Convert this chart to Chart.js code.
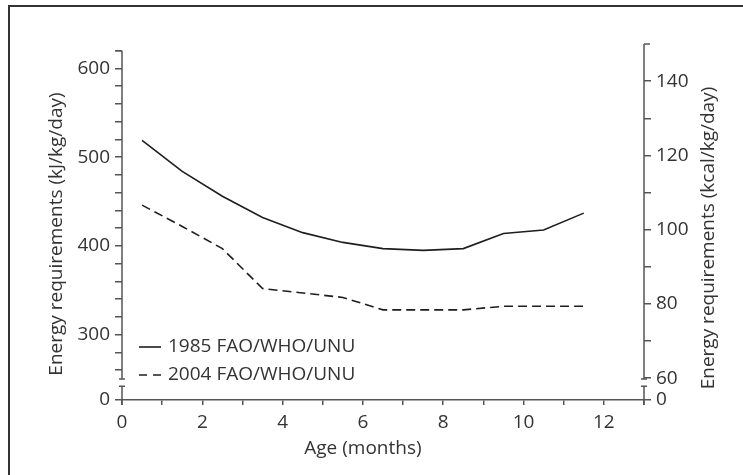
<!DOCTYPE html>
<html>
<head>
<meta charset="utf-8">
<script src="https://cdn.jsdelivr.net/npm/chart.js@4/dist/chart.umd.min.js"></script>
<style>
  html, body { margin: 0; padding: 0; background: #fff; }
  #wrap { width: 743px; height: 475px; }
</style>
</head>
<body>
<div id="wrap"><canvas id="energyChart" width="743" height="475"></canvas></div>
<script>
// data (kJ/kg/day at mid-month)
const ages = [0.5, 1.5, 2.5, 3.5, 4.5, 5.5, 6.5, 7.5, 8.5, 9.5, 10.5, 11.5];
const kj1985 = [519, 484, 456, 432, 415, 404, 397, 395, 397, 414, 418, 437];
const kj2004 = [446, 422, 397, 352, 347, 342, 328, 328, 328, 332, 332, 332];
const seriesLabels = ['1985 FAO/WHO/UNU', '2004 FAO/WHO/UNU'];

// axis ticks
const monthTicks = [0, 2, 4, 6, 8, 10, 12];
const kjTicks = [300, 400, 500, 600];
const kcalTicks = [60, 80, 100, 120, 140];

const KJ_PER_KCAL = 4.184;
const kjMin = 226.4, kjMax = 627.6;      // bottom of plot is labelled "0" after the break
const kjBreakTop = 250, kjBreakBottom = 242;
const kjAxisTop = 620;

const tickFont = { family: '"Open Sans", sans-serif', size: 19 };
const textFont = '19px "Open Sans", sans-serif';
const axisColor = '#555';
const inkColor = '#333';

function toPoints(xs, ys) {
  return xs.map((x, i) => ({ x: x, y: ys[i] }));
}

function range(a, b, step) {
  const out = [];
  for (let v = a; v <= b + 1e-9; v += step) out.push(v);
  return out;
}

// frame, broken y axes, legend and axis titles
const decorations = {
  id: 'decorations',
  beforeDraw(chart) {
    const ctx = chart.ctx;
    ctx.save();
    ctx.fillStyle = '#fff';
    ctx.fillRect(0, 0, chart.width, chart.height);
    ctx.strokeStyle = '#333';
    ctx.lineWidth = 2;
    ctx.beginPath();
    ctx.moveTo(9, chart.height);
    ctx.lineTo(9, 6);
    ctx.lineTo(chart.width, 6);
    ctx.stroke();
    ctx.restore();
  },
  afterDraw(chart) {
    const ctx = chart.ctx;
    const yL = chart.scales.yL, yR = chart.scales.yR, x = chart.scales.x;
    const area = chart.chartArea;
    ctx.save();
    ctx.strokeStyle = axisColor;
    ctx.lineWidth = 1.5;

    function brokenAxis(px, scale, top, bTop, bBottom, dir) {
      const yTop = scale.getPixelForValue(top);
      const y1 = scale.getPixelForValue(bTop);
      const y2 = scale.getPixelForValue(bBottom);
      ctx.beginPath();
      ctx.moveTo(px, yTop); ctx.lineTo(px, y1);
      ctx.moveTo(px - 3, y1); ctx.lineTo(px + 3, y1);
      ctx.moveTo(px - 3, y2); ctx.lineTo(px + 3, y2);
      ctx.moveTo(px, y2); ctx.lineTo(px, area.bottom + 5);
      ctx.moveTo(px, yTop); ctx.lineTo(px + dir * 6, yTop);
      ctx.stroke();
    }
    brokenAxis(area.left, yL, kjAxisTop, kjBreakTop, kjBreakBottom, -1);
    brokenAxis(area.right, yR, kjMax / KJ_PER_KCAL, kjBreakTop / KJ_PER_KCAL, kjBreakBottom / KJ_PER_KCAL, 1);

    // legend inside the plot
    ctx.font = textFont;
    ctx.textBaseline = 'middle';
    ctx.fillStyle = inkColor;
    const legendY = [347, 375];
    chart.data.datasets.forEach((ds, i) => {
      ctx.strokeStyle = ds.borderColor;
      ctx.lineWidth = ds.borderWidth;
      ctx.setLineDash(i === 0 ? [] : [8, 6]);
      ctx.beginPath();
      ctx.moveTo(139, legendY[i]);
      ctx.lineTo(161, legendY[i]);
      ctx.stroke();
      ctx.setLineDash([]);
      ctx.fillText(ds.label, 168, legendY[i]);
    });

    // axis titles (both y titles read bottom to top)
    ctx.textAlign = 'center';
    ctx.fillText('Age (months)', (x.getPixelForValue(0) + x.getPixelForValue(12)) / 2, 449);
    ctx.save();
    ctx.translate(57, 234);
    ctx.rotate(-Math.PI / 2);
    ctx.fillText('Energy requirements (kJ/kg/day)', 0, 0);
    ctx.restore();
    ctx.save();
    ctx.translate(709, 238);
    ctx.rotate(-Math.PI / 2);
    ctx.fillText('Energy requirements (kcal/kg/day)', 0, 0);
    ctx.restore();
    ctx.restore();
  }
};

new Chart(document.getElementById('energyChart'), {
  type: 'line',
  data: {
    datasets: [
      {
        label: seriesLabels[0],
        data: toPoints(ages, kj1985),
        yAxisID: 'yL',
        borderColor: '#1e1e1e',
        borderWidth: 1.6,
        pointRadius: 0,
        tension: 0
      },
      {
        label: seriesLabels[1],
        data: toPoints(ages, kj2004),
        yAxisID: 'yL',
        borderColor: '#1e1e1e',
        borderWidth: 1.6,
        borderDash: [9, 5],
        pointRadius: 0,
        tension: 0
      }
    ]
  },
  options: {
    responsive: false,
    animation: false,
    layout: { padding: { top: 44, left: 0, right: 0, bottom: 0 } },
    plugins: { legend: { display: false }, tooltip: { enabled: false } },
    scales: {
      x: {
        type: 'linear',
        position: 'bottom',
        min: 0,
        max: 13,
        afterBuildTicks: s => { s.ticks = range(0, 13, 1).map(v => ({ value: v })); },
        afterFit: s => { s.height = 75; },
        ticks: {
          autoSkip: false,
          maxRotation: 0,
          padding: 6,
          color: inkColor,
          font: tickFont,
          callback: v => monthTicks.includes(v) ? String(v) : ''
        },
        grid: { drawOnChartArea: false, tickLength: 5, color: axisColor, lineWidth: 1.5 },
        border: { display: true, color: axisColor, width: 1.5 }
      },
      yL: {
        type: 'linear',
        position: 'left',
        min: kjMin,
        max: kjMax,
        afterBuildTicks: s => {
          s.ticks = [{ value: kjMin }].concat(range(260, 620, 20).map(v => ({ value: v })));
        },
        afterFit: s => { s.width = 122; },
        ticks: {
          autoSkip: false,
          padding: 5,
          color: inkColor,
          font: tickFont,
          callback: v => v === kjMin ? '0' : (kjTicks.includes(v) ? String(v) : '')
        },
        grid: { drawOnChartArea: false, tickLength: 7, color: axisColor, lineWidth: 1.5 },
        border: { display: false }
      },
      yR: {
        type: 'linear',
        position: 'right',
        min: kjMin / KJ_PER_KCAL,
        max: kjMax / KJ_PER_KCAL,
        afterBuildTicks: s => {
          s.ticks = [{ value: kjMin / KJ_PER_KCAL }].concat(range(60, 140, 10).map(v => ({ value: v })));
        },
        afterFit: s => { s.width = 99; },
        ticks: {
          autoSkip: false,
          padding: 5,
          color: inkColor,
          font: tickFont,
          callback: (v, i) => i === 0 ? '0' : (kcalTicks.includes(v) ? String(v) : '')
        },
        grid: { drawOnChartArea: false, tickLength: 7, color: axisColor, lineWidth: 1.5 },
        border: { display: false }
      }
    }
  },
  plugins: [decorations]
});
</script>
</body>
</html>
